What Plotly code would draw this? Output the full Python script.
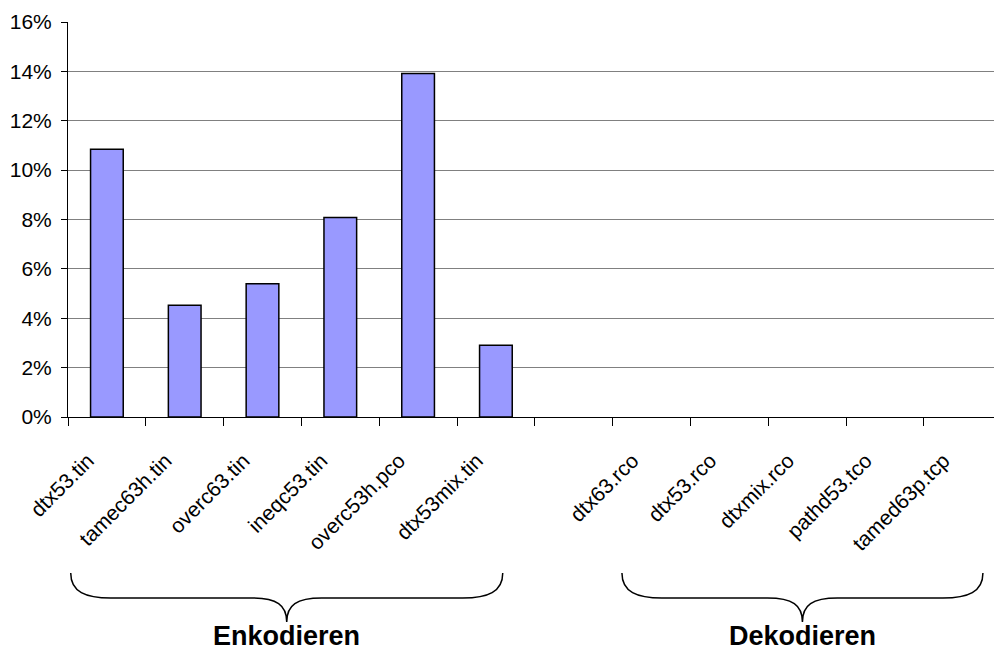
import plotly.graph_objects as go

# Relative change per test file (in %); the empty slot separates the two groups
files = ["dtx53.tin", "tamec63h.tin", "overc63.tin", "ineqc53.tin", "overc53h.pco",
         "dtx53mix.tin", " ", "dtx63.rco", "dtx53.rco", "dtxmix.rco", "pathd53.tco",
         "tamed63p.tcp"]
values = [10.85, 4.53, 5.40, 8.08, 13.91, 2.91, None, None, None, None, None, None]

groups = ["Enkodieren", "Dekodieren"]
group_spans = [(-0.465, 5.088), (6.62, 11.26)]   # brace extent in category units

y_ticks = [0, 2, 4, 6, 8, 10, 12, 14, 16]

FONT = "Arial, 'Liberation Sans', sans-serif"

W, H = 994, 651
ML, MT, MB = 68, 22, 234
plot_h = H - MT - MB
cat_px = 77.8
x_range = [-0.5, -0.5 + (W - ML) / cat_px]

fig = go.Figure(go.Bar(
    x=files, y=values, width=0.42,
    marker=dict(color="#9999FF", line=dict(color="#000000", width=1.5)),
    hoverinfo="x+y",
))


def py(p):
    """Pixel row (from top of page) -> paper y."""
    return (H - MB - p) / plot_h


def brace_path(x0, x1, top, flat, tip):
    mid = (x0 + x1) / 2
    d = 1 / cat_px
    ytop, yflat, ytip = py(top), py(flat), py(tip)
    yc1, yc2 = py(top + 19), py(flat + 7)
    return (
        f"M {x0},{ytop} C {x0},{yc1} {x0 + 15 * d},{yflat} {x0 + 40 * d},{yflat} "
        f"L {mid - 35 * d},{yflat} C {mid - 10 * d},{yflat} {mid},{yc2} {mid},{ytip} "
        f"M {x1},{ytop} C {x1},{yc1} {x1 - 15 * d},{yflat} {x1 - 40 * d},{yflat} "
        f"L {mid + 35 * d},{yflat} C {mid + 10 * d},{yflat} {mid},{yc2} {mid},{ytip}"
    )


shapes, annotations = [], []
for name, (a, b) in zip(groups, group_spans):
    shapes.append(dict(type="path", xref="x", yref="paper",
                       path=brace_path(a, b, 573, 598, 622),
                       line=dict(color="#000000", width=1.5)))
    annotations.append(dict(text=f"<b>{name}</b>", x=(a + b) / 2, y=py(636),
                            xref="x", yref="paper", showarrow=False,
                            xanchor="center", yanchor="middle",
                            font=dict(family=FONT, size=27, color="#000000")))

fig.update_layout(
    width=W, height=H,
    margin=dict(l=ML, r=0, t=MT, b=MB, pad=0),
    paper_bgcolor="white", plot_bgcolor="white",
    showlegend=False,
    font=dict(family=FONT, size=21, color="#000000"),
    shapes=shapes, annotations=annotations,
    xaxis=dict(
        type="category", range=x_range, tickson="boundaries",
        ticks="outside", ticklen=8, tickcolor="#000000", tickwidth=1,
        showline=True, linecolor="#000000", linewidth=1,
        showgrid=False, tickangle=-45,
        ticklabelstandoff=22, ticklabelshift=-19,
        tickfont=dict(family=FONT, size=21, color="#000000"),
    ),
    yaxis=dict(
        range=[0, 16], tickvals=y_ticks, ticktext=[f"{v}%" for v in y_ticks],
        ticks="outside", ticklen=6, tickcolor="#000000",
        showline=True, linecolor="#000000", linewidth=1,
        showgrid=True, gridcolor="#808080", gridwidth=1,
        zeroline=False, ticklabelstandoff=5,
        tickfont=dict(family=FONT, size=21, color="#000000"),
    ),
)

fig.write_html("out.html")
